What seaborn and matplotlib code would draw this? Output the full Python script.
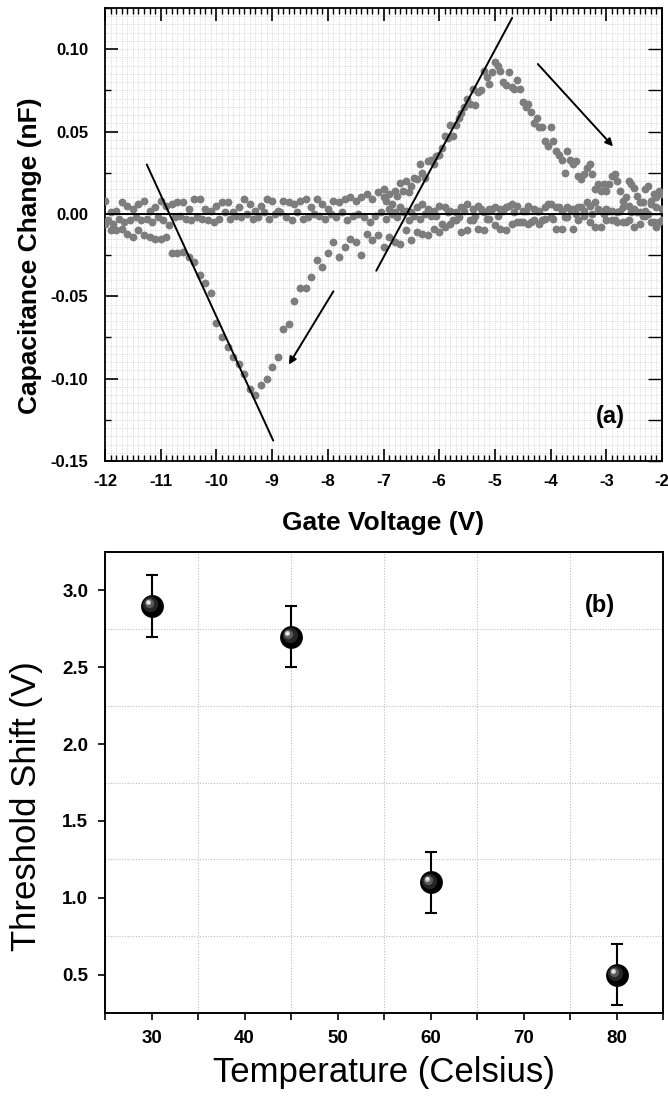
import numpy as np
import pandas as pd
import matplotlib
matplotlib.use("Agg")
import matplotlib.pyplot as plt
import matplotlib.transforms as mtransforms
from matplotlib.ticker import MultipleLocator, FormatStrFormatter
import seaborn as sns

# ---------------- Panel (a) data ----------------
# flat sweep slightly above zero, V = -12.0 ... -2.0 (step 0.1)
flat_up_start = -12.0
flat_up_vals = [
    0.008, 0.001, 0.002, 0.007, 0.005, 0.003, 0.006, 0.008, 0.002, 0.004, 0.008,
    0.005, 0.006, 0.007, 0.007, 0.003, 0.009, 0.009, 0.003, 0.002, 0.005,
    0.007, 0.007, 0.001, 0.004, 0.009, 0.006, 0.002, 0.005, 0.009, 0.008,
    0.002, 0.008, 0.007, 0.006, 0.008, 0.009, 0.004, 0.009, 0.006, 0.003,
    0.008, 0.007, 0.009, 0.010, 0.008, 0.010, 0.012, 0.009, 0.013, 0.010,
    0.003, 0.001, 0.004, 0.002, 0.001, 0.004, 0.006, 0.003, 0.002, 0.005,
    0.004, 0.002, 0.001, 0.004, 0.006, 0.003, 0.005, 0.001, 0.003, 0.004,
    0.003, 0.004, 0.006, 0.005, 0.002, 0.005, 0.003, 0.002, 0.004, 0.006,
    0.004, 0.002, 0.004, 0.003, 0.004, 0.002, 0.005, 0.007, 0.002, 0.003,
    0.002, 0.001, 0.004, 0.005, 0.003, 0.001, 0.002, 0.006, 0.004, 0.003,
]
# flat sweep slightly below zero, V = -11.95 ... -2.05 (step 0.1)
flat_low_start = -11.95
flat_low_vals = [
    -0.004, -0.006, -0.003, -0.005, -0.004, -0.002, -0.004, -0.003, -0.005, -0.002,
    -0.004, -0.007, -0.002, -0.001, -0.003, -0.004, -0.002, -0.003, -0.004, -0.005,
    -0.003, 0.001, -0.003, -0.001, -0.002, 0.000, -0.003, -0.002, 0.001, -0.003,
    0.000, 0.001, -0.002, -0.004, 0.001, -0.003, -0.002, 0.000, -0.001, -0.003,
    0.000, -0.002, 0.001, -0.004, -0.001, 0.000, -0.002, -0.005, -0.001, 0.001,
    -0.003, 0.000, -0.002, 0.001, -0.004, -0.001, -0.003, 0.000, -0.001, -0.001,
    -0.006, 0.001, -0.004, -0.002, 0.002, -0.004, -0.001, 0.003, -0.003, 0.003,
    -0.001, 0.002, 0.005, 0.001, -0.005, 0.002, -0.005, 0.002, -0.004, 0.006,
    -0.003, 0.004, -0.002, 0.003, 0.000, 0.004, 0.007, 0.000, 0.003, 0.000,
    0.002, -0.004, 0.002, -0.005, 0.001, 0.001, -0.001, 0.000, -0.005, -0.005,
]
# descending branch (negative dip), V = -12.0 ... -2.0 (step 0.1)
dip_start = -12.0
dip_vals = [
    -0.006, -0.010, -0.010, -0.009, -0.012, -0.014, -0.010, -0.013, -0.014, -0.015, -0.015,
    -0.014, -0.024, -0.024, -0.023, -0.026, -0.029, -0.037, -0.042, -0.048, -0.066,
    -0.075, -0.081, -0.087, -0.091, -0.097, -0.106, -0.110, -0.104, -0.100, -0.093,
    -0.087, -0.070, -0.067, -0.053, -0.045, -0.045, -0.038, -0.028, -0.032, -0.024,
    -0.017, -0.026, -0.020, -0.015, -0.017, -0.025, -0.012, -0.016, -0.013, -0.020,
    -0.014, -0.017, -0.018, -0.010, -0.016, -0.011, -0.012, -0.013, -0.009, -0.011,
    -0.008, -0.006, -0.004, -0.011, -0.010, -0.004, -0.009, -0.010, -0.003, -0.007,
    -0.009, -0.010, -0.006, -0.005, -0.005, -0.006, -0.004, -0.006, -0.003, -0.002,
    -0.009, -0.009, -0.002, -0.009, -0.004, -0.001, -0.005, -0.008, -0.008, -0.004,
    -0.004, -0.005, -0.005, -0.004, -0.008, -0.006, -0.001, -0.005, -0.008, -0.004,
]
# rising branch (positive peak), V = -7.00 ... -2.00 (step 0.05)
peak_start = -7.0
peak_vals = [
    0.015, 0.008, 0.012, 0.006, 0.014, 0.011, 0.019, 0.014, 0.020, 0.013,
    0.017, 0.022, 0.021, 0.030, 0.025, 0.022, 0.032, 0.033, 0.030, 0.035,
    0.036, 0.040, 0.047, 0.046, 0.054, 0.047, 0.054, 0.058, 0.061, 0.065,
    0.070, 0.067, 0.076, 0.066, 0.074, 0.075, 0.087, 0.083, 0.079, 0.086,
    0.092, 0.090, 0.087, 0.080, 0.078, 0.086, 0.077, 0.076, 0.081, 0.076,
    0.068, 0.065, 0.067, 0.062, 0.055, 0.058, 0.053, 0.053, 0.044, 0.041,
    0.053, 0.044, 0.038, 0.036, 0.033, 0.025, 0.038, 0.033, 0.030, 0.032,
    0.023, 0.021, 0.024, 0.028, 0.030, 0.024, 0.015, 0.018, 0.014, 0.018,
    0.014, 0.018, 0.023, 0.024, 0.020, 0.014, 0.008, 0.010, 0.020, 0.018,
    0.016, 0.011, 0.007, 0.007, 0.015, 0.017, 0.008, 0.012, 0.010, 0.014,
    0.012,
]
# fitted tangent lines and arrows (V, nF)
fit1_x = [-11.25, -8.98]
fit1_y = [0.030, -0.1376]
fit2_x = [-7.13, -4.69]
fit2_y = [-0.0345, 0.119]
arrow1_from = (-4.23, 0.091)
arrow1_to = (-2.88, 0.041)
arrow2_from = (-7.90, -0.047)
arrow2_to = (-8.70, -0.0915)

# ---------------- Panel (b) data ----------------
temps = [30, 45, 60, 80]
shift = [2.9, 2.7, 1.1, 0.5]
shift_err = [0.2, 0.2, 0.2, 0.2]


def sweep(start, step, vals):
    return [round(start + i * step, 3) for i in range(len(vals))]


df_a = pd.concat([
    pd.DataFrame({"V": sweep(flat_up_start, 0.1, flat_up_vals), "C": flat_up_vals}),
    pd.DataFrame({"V": sweep(flat_low_start, 0.1, flat_low_vals), "C": flat_low_vals}),
    pd.DataFrame({"V": sweep(dip_start, 0.1, dip_vals), "C": dip_vals}),
    pd.DataFrame({"V": sweep(peak_start, 0.05, peak_vals), "C": peak_vals}),
], ignore_index=True)
df_b = pd.DataFrame({"T": temps, "S": shift, "E": shift_err})

sns.set_theme(style="white")
plt.rcParams['font.family'] = ['Liberation Sans', 'DejaVu Sans']
plt.rcParams['text.color'] = 'black'
plt.rcParams['axes.labelcolor'] = 'black'
plt.rcParams['xtick.color'] = 'black'
plt.rcParams['ytick.color'] = 'black'

W, H = 668, 1099
fig = plt.figure(figsize=(W / 100, H / 100), dpi=100)
ax1 = fig.add_axes([105 / W, 1 - 461 / H, 557 / W, 453 / H])
ax2 = fig.add_axes([105 / W, 1 - 1013 / H, 558 / W, 461 / H])

# ================= Panel (a) =================
ax1.set_xlim(-12, -2)
ax1.set_ylim(-0.15, 0.125)
grid_kw = dict(colors="#d2d2d2", linestyles=(0, (1, 1.2)), linewidths=0.6, zorder=0)
ax1.vlines(np.arange(-11.9, -2.05, 0.1), -0.15, 0.125, **grid_kw)
ax1.hlines(np.arange(-0.145, 0.1249, 0.005), -12, -2, **grid_kw)

sns.scatterplot(data=df_a, x="V", y="C", ax=ax1, color="#7d7d7d", s=32,
                linewidth=0, zorder=3, legend=False)
ax1.axhline(0, color="black", lw=1.4, zorder=4)
ax1.plot(fit1_x, fit1_y, color="black", lw=1.4, zorder=4)
ax1.plot(fit2_x, fit2_y, color="black", lw=1.4, zorder=4)
for a_from, a_to in [(arrow1_from, arrow1_to), (arrow2_from, arrow2_to)]:
    ax1.annotate("", xy=a_to, xytext=a_from,
                 arrowprops=dict(arrowstyle="-|>", color="black", lw=1.4,
                                 mutation_scale=11, shrinkA=0, shrinkB=0), zorder=5)
ax1.text(-2.93, -0.123, "(a)", fontsize=17, fontweight="bold", ha="center",
         va="center", color="black")

ax1.xaxis.set_major_locator(MultipleLocator(1))
ax1.xaxis.set_minor_locator(MultipleLocator(0.1))
ax1.yaxis.set_major_locator(MultipleLocator(0.05))
ax1.yaxis.set_minor_locator(MultipleLocator(0.025))
ax1.yaxis.set_major_formatter(FormatStrFormatter("%.2f"))
ax1.xaxis.set_major_formatter(FormatStrFormatter("%d"))
ax1.tick_params(which="major", direction="in", length=9, width=1.2, color="black",
                top=True, bottom=True, left=True, right=False,
                labelsize=12, labelcolor="black")
ax1.tick_params(which="minor", direction="in", length=4, width=1.0, color="black",
                top=True, bottom=True, left=True, right=False)
ax1.tick_params(axis="x", which="major", pad=9)
ax1.tick_params(axis="y", which="major", pad=12)
for lab in ax1.get_xticklabels() + ax1.get_yticklabels():
    lab.set_fontweight("bold")
sec = ax1.secondary_yaxis("right")
sec.yaxis.set_major_locator(MultipleLocator(0.025))
sec.tick_params(direction="in", length=10, width=1.0, labelright=False, color="black")
sec.spines["right"].set_linewidth(1.3)
for sp in ax1.spines.values():
    sp.set_linewidth(1.3)
    sp.set_color("black")
ax1.set_xlabel("Gate Voltage (V)", fontsize=19, fontweight="bold", color="black")
ax1.set_ylabel("Capacitance Change (nF)", fontsize=19, fontweight="bold", color="black")
ax1.xaxis.set_label_coords(0.5, -0.11)
ax1.yaxis.set_label_coords(-0.113, 0.453)

# ================= Panel (b) =================
ax2.set_xlim(25, 85)
ax2.set_ylim(0.25, 3.25)
ax2.xaxis.set_major_locator(MultipleLocator(10))
ax2.xaxis.set_minor_locator(MultipleLocator(10, offset=5))
ax2.yaxis.set_major_locator(MultipleLocator(0.5))
ax2.yaxis.set_minor_locator(MultipleLocator(0.5, offset=0.25))
ax2.yaxis.set_major_formatter(FormatStrFormatter("%.1f"))
ax2.grid(which="minor", color="#bdbdbd", linestyle=(0, (1, 1.5)), linewidth=0.8)
ax2.grid(which="major", visible=False)
ax2.set_axisbelow(True)

ax2.errorbar(df_b["T"], df_b["S"], yerr=df_b["E"], fmt="none", ecolor="black",
             elinewidth=1.5, capsize=4, capthick=1.5, zorder=3)
sns.scatterplot(data=df_b, x="T", y="S", ax=ax2, color="black", s=270,
                linewidth=0, zorder=4, legend=False)
# sphere shading (highlight toward the upper left)
for dx, dy, s, c in [(-1.0, 1.0, 120, "#262626"), (-2.0, 2.0, 45, "#5a5a5a"),
                     (-2.6, 2.6, 14, "#bdbdbd"), (-2.8, 2.8, 4, "#f2f2f2")]:
    tr = mtransforms.offset_copy(ax2.transData, fig=fig, x=dx, y=dy, units="points")
    ax2.scatter(df_b["T"], df_b["S"], s=s, color=c, linewidths=0, zorder=5, transform=tr)

ax2.text(78.2, 2.90, "(b)", fontsize=17, fontweight="bold", ha="center",
         va="center", color="black")

ax2.tick_params(which="both", direction="out", length=5, width=1.2, color="black",
                top=False, right=False, bottom=True, left=True)
ax2.tick_params(axis="y", which="minor", length=0)
ax2.tick_params(axis="both", which="major", labelsize=13.5, labelcolor="black")
ax2.tick_params(axis="x", which="major", pad=7)
ax2.tick_params(axis="y", which="major", pad=7)
for lab in ax2.get_xticklabels() + ax2.get_yticklabels():
    lab.set_fontweight("bold")
for sp in ax2.spines.values():
    sp.set_linewidth(1.4)
    sp.set_color("black")
ax2.set_xlabel("Temperature (Celsius)", fontsize=25, color="black")
ax2.set_ylabel("Threshold Shift (V)", fontsize=25, color="black")
ax2.xaxis.set_label_coords(0.5, -0.093)
ax2.yaxis.set_label_coords(-0.112, 0.448)

fig.savefig("out.png", dpi=100)
